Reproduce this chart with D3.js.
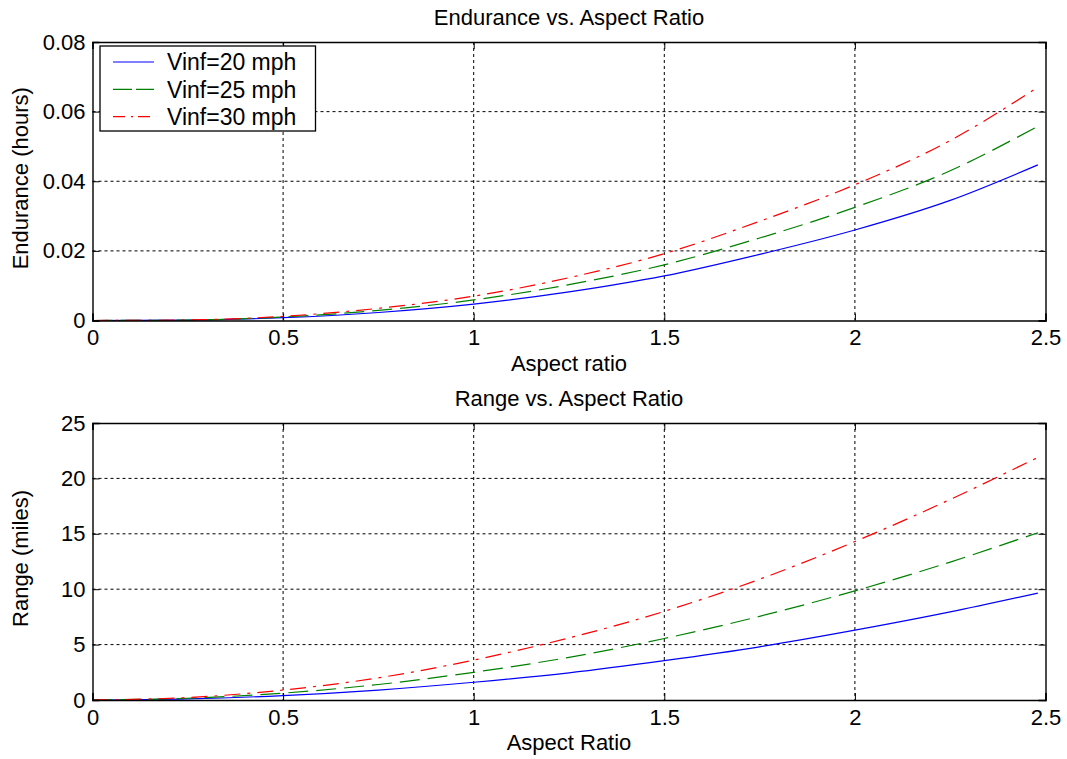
<!DOCTYPE html>
<html>
<head>
<meta charset="utf-8">
<script src="https://cdn.jsdelivr.net/npm/d3@7"></script>
<style>
  body { margin: 0; background: #fff; }
  text { font-family: "Liberation Sans", Arial, sans-serif; fill: #000; }
</style>
</head>
<body>
<div id="chart"></div>
<script>
// aspect ratio samples
var aspectRatio = [0, 0.25, 0.5, 0.75, 1, 1.25, 1.5, 1.75, 2, 2.25, 2.48];

// endurance (hours)
var endur20 = [0, 0.0001, 0.0008, 0.0023, 0.0047, 0.0082, 0.0128, 0.019, 0.026, 0.0345, 0.0447];
var endur25 = [0, 0.00012, 0.001, 0.0029, 0.0059, 0.0103, 0.016, 0.0237, 0.0325, 0.043, 0.0558];
var endur30 = [0, 0.00015, 0.0012, 0.0035, 0.007, 0.0123, 0.0192, 0.0285, 0.039, 0.0517, 0.067];

// range (miles)
var range20 = [0, 0.1, 0.4, 0.9, 1.6, 2.45, 3.55, 4.8, 6.3, 7.95, 9.65];
var range25 = [0, 0.16, 0.62, 1.4, 2.5, 3.85, 5.55, 7.55, 9.85, 12.45, 15.1];
var range30 = [0, 0.22, 0.9, 2.0, 3.6, 5.6, 8.0, 10.9, 14.3, 18.1, 21.9];

var seriesNames = ["Vinf=20 mph", "Vinf=25 mph", "Vinf=30 mph"];
var seriesColors = ["#0000ff", "#008000", "#ff0000"];
var seriesDash = [null, "20,8", "16,7,3,7"];
var legendDash = [null, "19,4", "12,6,2,5"];

var xTicks = [0, 0.5, 1, 1.5, 2, 2.5];
var endurTicks = [0, 0.02, 0.04, 0.06, 0.08];
var rangeTicks = [0, 5, 10, 15, 20, 25];

var width = 1067, height = 759;
var svg = d3.select("#chart").append("svg")
    .attr("width", width)
    .attr("height", height);

function drawPanel(opts) {
    var x = d3.scaleLinear().domain([0, 2.5]).range([92.5, 1045.5]);
    var y = d3.scaleLinear().domain(opts.yDomain).range([opts.bottom, opts.top]);
    var g = svg.append("g");

    // dotted grid
    g.selectAll(".vgrid").data(xTicks.slice(1, -1)).enter().append("line")
        .attr("x1", function (d) { return x(d); })
        .attr("x2", function (d) { return x(d); })
        .attr("y1", opts.top).attr("y2", opts.bottom)
        .attr("stroke", "#000").attr("stroke-width", 1).attr("stroke-dasharray", "3,3");
    g.selectAll(".hgrid").data(opts.yTicks.slice(1, -1)).enter().append("line")
        .attr("y1", function (d) { return y(d); })
        .attr("y2", function (d) { return y(d); })
        .attr("x1", x(0)).attr("x2", x(2.5))
        .attr("stroke", "#000").attr("stroke-width", 1).attr("stroke-dasharray", "3,3");

    // curves
    var line = d3.line()
        .x(function (d) { return x(d[0]); })
        .y(function (d) { return y(d[1]); })
        .curve(d3.curveMonotoneX);
    opts.series.forEach(function (vals, i) {
        var pts = aspectRatio.map(function (a, j) { return [a, vals[j]]; });
        g.append("path")
            .attr("d", line(pts))
            .attr("fill", "none")
            .attr("stroke", seriesColors[i])
            .attr("stroke-width", 1.2)
            .attr("stroke-dasharray", seriesDash[i]);
    });

    // axes, ticks pointing inward like matlab
    var xAxis = d3.axisBottom(x).tickValues(xTicks).tickSize(-7).tickPadding(9)
        .tickFormat(d3.format("~g"));
    var xg = g.append("g").attr("transform", "translate(0," + opts.bottom + ")").call(xAxis);
    var yAxis = d3.axisLeft(y).tickValues(opts.yTicks).tickSize(-7).tickPadding(7)
        .tickFormat(d3.format("~g"));
    var yg = g.append("g").attr("transform", "translate(" + x(0) + ",0)").call(yAxis);
    g.append("g").attr("transform", "translate(0," + opts.top + ")")
        .call(d3.axisTop(x).tickValues(xTicks).tickSize(-7).tickFormat(""));
    g.append("g").attr("transform", "translate(" + x(2.5) + ",0)")
        .call(d3.axisRight(y).tickValues(opts.yTicks).tickSize(-7).tickFormat(""));
    g.selectAll(".domain").attr("stroke", "#000").attr("stroke-width", 1.4);
    g.selectAll(".tick line").attr("stroke", "#000");
    xg.selectAll("text").attr("font-size", 22);
    yg.selectAll("text").attr("font-size", 22);
    if (opts.yFormat) yg.selectAll(".tick text").text(opts.yFormat);

    // labels
    g.append("text").attr("x", (x(0) + x(2.5)) / 2).attr("y", opts.top - 17)
        .attr("text-anchor", "middle").attr("font-size", 22).text(opts.title);
    g.append("text").attr("x", (x(0) + x(2.5)) / 2).attr("y", opts.bottom + 50)
        .attr("text-anchor", "middle").attr("font-size", 22).text(opts.xLabel);
    g.append("text")
        .attr("transform", "translate(28," + ((opts.top + opts.bottom) / 2 - 3) + ") rotate(-90)")
        .attr("text-anchor", "middle").attr("font-size", 22).text(opts.yLabel);
    return { x: x, y: y };
}

drawPanel({
    top: 42, bottom: 320.5,
    yDomain: [0, 0.08], yTicks: endurTicks,
    yFormat: function (d) { return d === 0 ? "0" : d3.format(".2f")(d); },
    series: [endur20, endur25, endur30],
    title: "Endurance vs. Aspect Ratio",
    xLabel: "Aspect ratio",
    yLabel: "Endurance (hours)"
});

drawPanel({
    top: 423, bottom: 700,
    yDomain: [0, 25], yTicks: rangeTicks,
    series: [range20, range25, range30],
    title: "Range vs. Aspect Ratio",
    xLabel: "Aspect Ratio",
    yLabel: "Range (miles)"
});

// legend in the top panel
var legend = svg.append("g").attr("transform", "translate(100,46)");
legend.append("rect").attr("width", 215.5).attr("height", 85)
    .attr("fill", "#fff").attr("stroke", "#000").attr("stroke-width", 1.3);
seriesNames.forEach(function (name, i) {
    var yy = 16 + i * 27.3;
    legend.append("line").attr("x1", 13).attr("x2", 54).attr("y1", yy).attr("y2", yy)
        .attr("stroke", seriesColors[i]).attr("stroke-width", 1.2)
        .attr("stroke-dasharray", legendDash[i]);
    legend.append("text").attr("x", 67).attr("y", yy).attr("dy", "0.36em")
        .attr("font-size", 23).text(name);
});
</script>
</body>
</html>
